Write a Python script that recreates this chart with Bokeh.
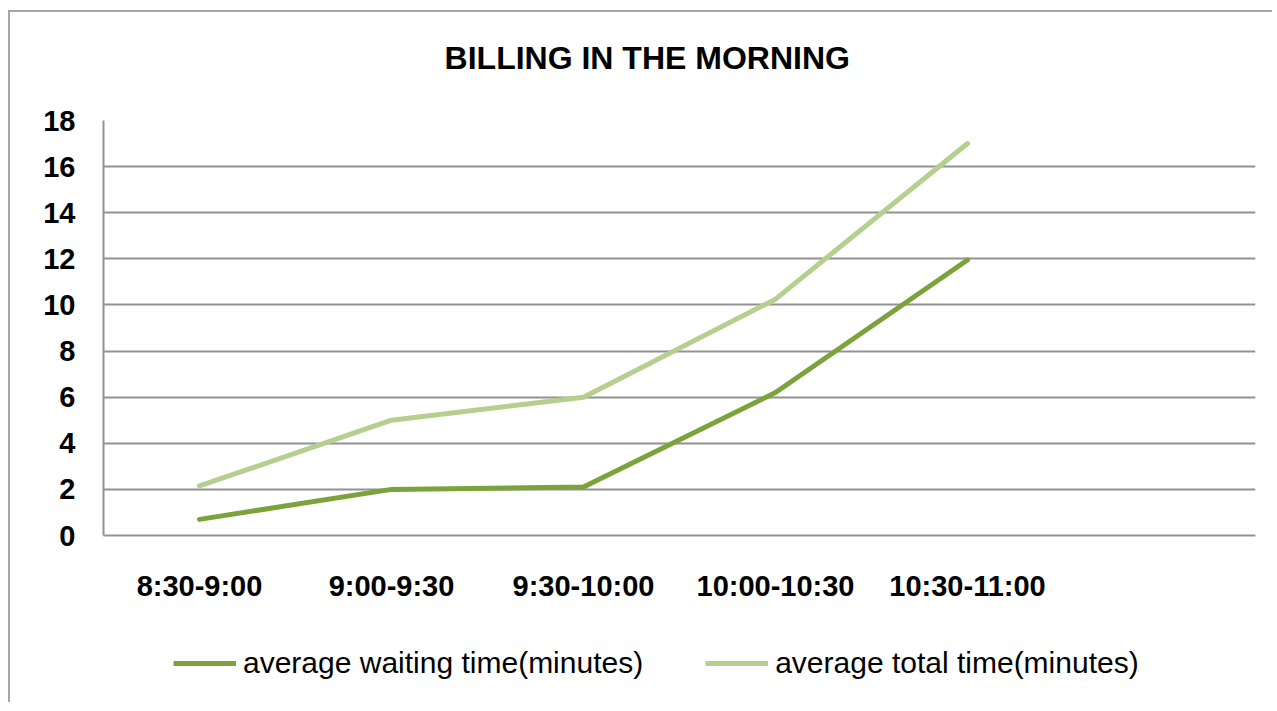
from bokeh.plotting import figure
from bokeh.layouts import column
from bokeh.models import FactorRange, Range1d, FixedTicker, Legend, LegendItem, ColumnDataSource, Label
from bokeh.embed import file_html
from bokeh.resources import INLINE

title = "BILLING IN THE MORNING"
categories = ["8:30-9:00", "9:00-9:30", "9:30-10:00", "10:00-10:30", "10:30-11:00"]
waiting = [0.7, 2.0, 2.1, 6.2, 11.95]
total = [2.15, 5.0, 6.0, 10.25, 17.0]
series_names = ["average waiting time(minutes)", "average total time(minutes)"]
y_ticks = [0, 2, 4, 6, 8, 10, 12, 14, 16, 18]

FONT = "Liberation Sans"
GRID = "#929292"
C1 = "#7ca33b"
C2 = "#b4cf8e"


def strip(height):
    s = figure(width=1262, height=height, output_backend="svg", toolbar_location=None,
               x_axis_location=None, y_axis_location=None,
               min_border_left=93, min_border_right=17, min_border_top=0, min_border_bottom=0,
               x_range=Range1d(0, 1), y_range=Range1d(0, 1))
    s.outline_line_color = None
    s.xgrid.grid_line_color = None
    s.ygrid.grid_line_color = None
    s.border_fill_color = "white"
    s.background_fill_color = "white"
    return s


# title strip
t = strip(90)
t.add_layout(Label(x=0.472, y=0.489, text=title, text_font=FONT, text_font_size="32px",
                   text_font_style="bold", text_color="#000000",
                   text_align="center", text_baseline="middle"))

# main chart
factors = categories + [" "]
p = figure(width=1262, height=530, x_range=FactorRange(factors=factors, range_padding=0),
           y_range=Range1d(0, 18), output_backend="svg", toolbar_location=None,
           min_border_left=93, min_border_right=17, min_border_top=18, min_border_bottom=97)
p.outline_line_color = None
p.background_fill_color = "white"
p.border_fill_color = "white"

src = ColumnDataSource(dict(x=categories, w=waiting, t=total))
p.line("x", "w", source=src, line_color=C1, line_width=5, line_join="round", line_cap="round")
p.line("x", "t", source=src, line_color=C2, line_width=5, line_join="round", line_cap="round")

p.xgrid.grid_line_color = None
p.ygrid.grid_line_color = GRID
p.ygrid.grid_line_width = 2
p.yaxis.ticker = FixedTicker(ticks=y_ticks)

for ax in (p.xaxis[0], p.yaxis[0]):
    ax.axis_line_color = GRID
    ax.axis_line_width = 2
    ax.major_tick_line_color = None
    ax.minor_tick_line_color = None
    ax.major_tick_out = 0
    ax.major_tick_in = 0
    ax.major_label_text_font = FONT
    ax.major_label_text_font_style = "bold"
    ax.major_label_text_color = "#000000"

p.yaxis.major_label_text_font_size = "29px"
p.yaxis.major_label_standoff = 28
p.xaxis.major_label_text_font_size = "29px"
p.xaxis.major_label_standoff = 34

# legend strip below the chart
q = strip(70)
d1 = q.line(x=[0], y=[float("nan")], line_color=C1, line_width=5)
d2 = q.line(x=[0], y=[float("nan")], line_color=C2, line_width=5)
legend = Legend(items=[LegendItem(label=series_names[0], renderers=[d1]),
                       LegendItem(label=series_names[1], renderers=[d2])],
                orientation="horizontal", location=(70, 22),
                label_text_font=FONT, label_text_font_size="30px", label_text_color="#000000",
                glyph_width=63, glyph_height=30, label_height=30, label_standoff=7,
                spacing=62, padding=0, margin=0, border_line_color=None,
                background_fill_alpha=0)
q.add_layout(legend)

layout = column(t, p, q, spacing=0)
layout.styles = {"border-top": "2px solid #a6a6a6", "border-left": "2px solid #a6a6a6",
                 "margin-top": "10px", "margin-left": "8px"}

open("out.html", "w").write(file_html(layout, INLINE))
